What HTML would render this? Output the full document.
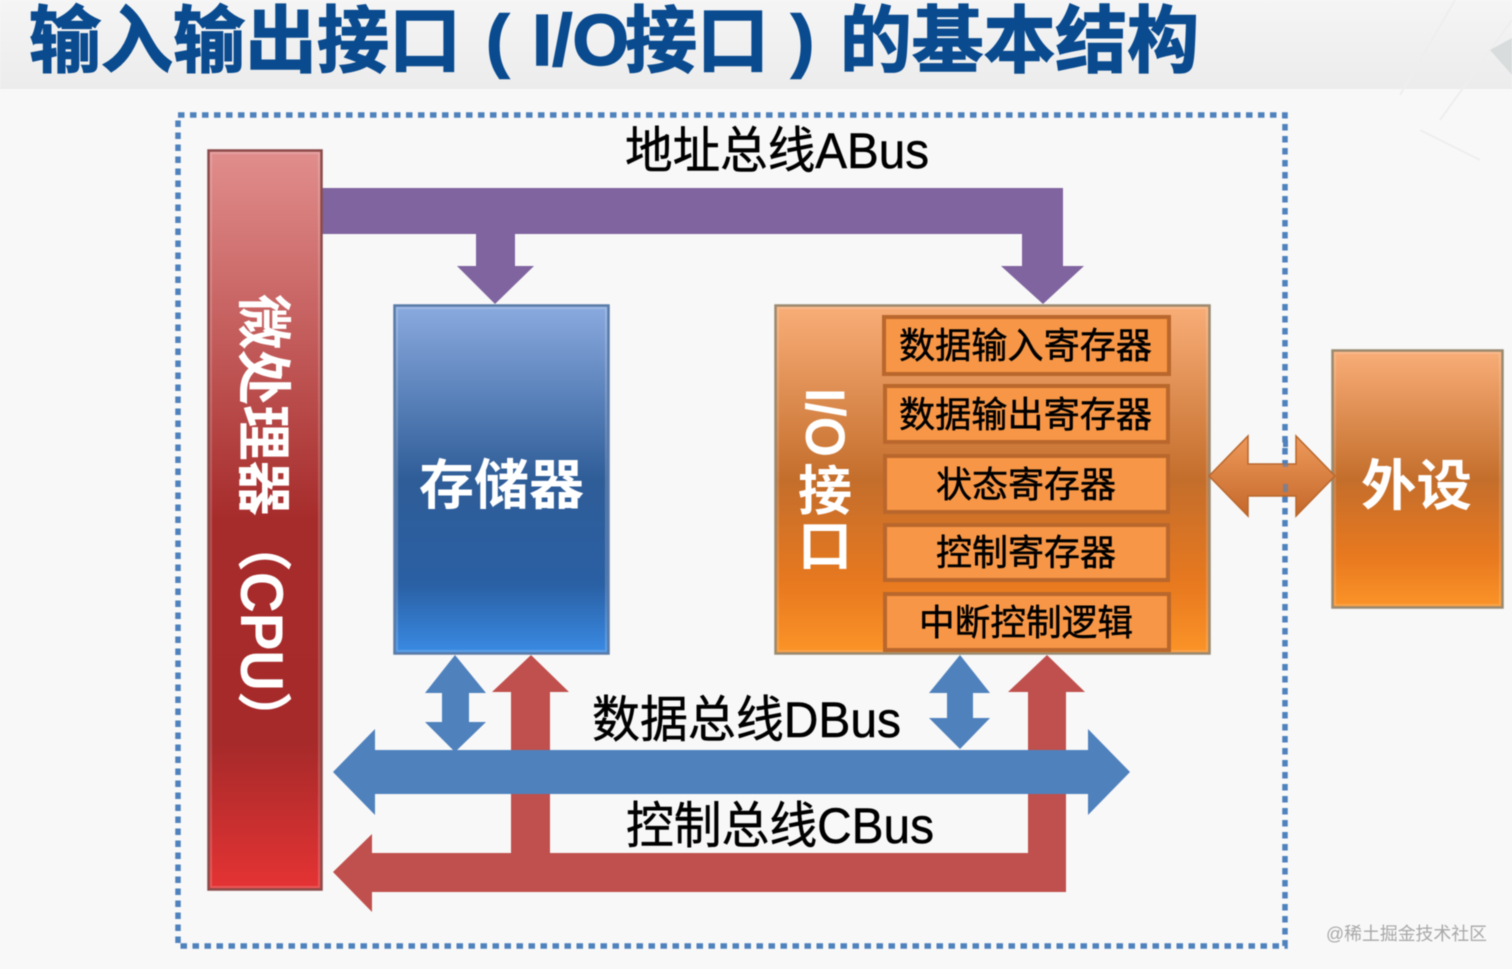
<!DOCTYPE html>
<html lang="zh"><head><meta charset="utf-8"><title>I/O接口</title>
<style>
html,body{margin:0;padding:0;background:#f8f8f8;width:1512px;height:969px;overflow:hidden}
svg{display:block;filter:blur(.45px)}
text{font-family:"Liberation Sans","Noto Sans CJK SC",sans-serif}
</style></head><body>
<svg width="1512" height="969" viewBox="0 0 1512 969" xmlns="http://www.w3.org/2000/svg">
<defs>
<linearGradient id="band" x1="0" y1="0" x2="0" y2="1"><stop offset="0" stop-color="#f5f5f5"/><stop offset="1" stop-color="#ececec"/></linearGradient>
<linearGradient id="cpu" x1="0" y1="0" x2="0" y2="1"><stop offset="0" stop-color="#e18e8d"/><stop offset=".5" stop-color="#a62c2b"/><stop offset=".8" stop-color="#a62a2a"/><stop offset="1" stop-color="#e53334"/></linearGradient>
<linearGradient id="mem" x1="0" y1="0" x2="0" y2="1"><stop offset="0" stop-color="#8aaadf"/><stop offset=".5" stop-color="#2f5d98"/><stop offset=".8" stop-color="#2a60a4"/><stop offset="1" stop-color="#3a8be4"/></linearGradient>
<linearGradient id="org" x1="0" y1="0" x2="0" y2="1"><stop offset="0" stop-color="#f9ae78"/><stop offset=".5" stop-color="#c46e2c"/><stop offset=".8" stop-color="#e8791f"/><stop offset="1" stop-color="#fb9428"/></linearGradient>
<linearGradient id="dbl" x1="0" y1="0" x2="0" y2="1"><stop offset="0" stop-color="#ee9a5c"/><stop offset="1" stop-color="#c4682a"/></linearGradient>
</defs>
<rect width="1512" height="969" fill="#f8f8f8"/>
<rect width="1512" height="89" fill="url(#band)"/>
<g fill="none" stroke="#eeeeee" stroke-width="2"><path d="M1400 95L1455 0M1440 120L1512 20M1420 130L1480 160"/></g>
<path d="M1490 50L1512 38V75Z" fill="#d8dcdc"/>

<g fill="#0a4b8f" stroke="#0a4b8f" stroke-width="1.400" font-weight="700" font-size="73">
<text x="29" y="66" textLength="432" lengthAdjust="spacingAndGlyphs">输入输出接口</text>
<text x="486" y="64" font-size="70">(</text>
<text x="532" y="65" font-size="72" textLength="97" lengthAdjust="spacingAndGlyphs">I/O</text>
<text x="625" y="66" textLength="144" lengthAdjust="spacingAndGlyphs">接口</text>
<text x="791" y="64" font-size="70">)</text>
<text x="840" y="66" textLength="359" lengthAdjust="spacingAndGlyphs">的基本结构</text>
</g>

<rect x="178" y="115" width="1107" height="831" fill="none" stroke="#4f81bd" stroke-width="5.500" stroke-dasharray="6.500 5.500"/>

<text x="625" y="168" font-size="50" fill="#000" stroke="#000" stroke-width=".5" textLength="304" lengthAdjust="spacingAndGlyphs">地址总线ABus</text>

<path d="M322 188H1063V266H1084L1043 304L1001 266H1022V234H515V266H534L495 304L457 266H476V234H322Z" fill="#8064a0"/>

<rect x="208.500" y="150.500" width="113" height="739" fill="url(#cpu)" stroke="#8c4b4a" stroke-width="2.500"/>
<rect x="211" y="153" width="108" height="734" fill="none" stroke="#fff" stroke-opacity=".18" stroke-width="2"/>
<rect x="394.500" y="305.500" width="214" height="348" fill="url(#mem)" stroke="#5a7ba8" stroke-width="2.500"/>
<rect x="397" y="308" width="209" height="343" fill="none" stroke="#fff" stroke-opacity=".18" stroke-width="2"/>
<rect x="775.500" y="305.500" width="434" height="348" fill="url(#org)" stroke="#9a8a70" stroke-width="2.500"/>
<rect x="778" y="308" width="429" height="343" fill="none" stroke="#fff" stroke-opacity=".15" stroke-width="2"/>
<rect x="1332.500" y="350.500" width="170" height="257" fill="url(#org)" stroke="#9a8a70" stroke-width="2.500"/>
<rect x="1335" y="353" width="165" height="252" fill="none" stroke="#fff" stroke-opacity=".15" stroke-width="2"/>

<g fill="#f79646" stroke="#b9672c" stroke-width="4">
<rect x="884" y="317" width="285" height="57"/>
<rect x="885" y="386" width="283" height="56"/>
<rect x="885" y="456" width="283" height="56"/>
<rect x="885" y="525" width="283" height="55"/>
<rect x="885" y="594" width="284" height="56"/>
</g>
<g font-size="36" fill="#000" stroke="#000" stroke-width=".5">
<text x="899" y="358" textLength="253" lengthAdjust="spacingAndGlyphs">数据输入寄存器</text>
<text x="899" y="427" textLength="253" lengthAdjust="spacingAndGlyphs">数据输出寄存器</text>
<text x="936" y="497" textLength="180" lengthAdjust="spacingAndGlyphs">状态寄存器</text>
<text x="936" y="565" textLength="180" lengthAdjust="spacingAndGlyphs">控制寄存器</text>
<text x="919" y="635" textLength="214" lengthAdjust="spacingAndGlyphs">中断控制逻辑</text>
</g>

<g fill="#fff" font-weight="700">
<text x="419" y="504" font-size="54" textLength="165" lengthAdjust="spacingAndGlyphs">存储器</text>
<text x="1361" y="505" font-size="55" textLength="111" lengthAdjust="spacingAndGlyphs">外设</text>
<text transform="translate(244,294) rotate(90)" font-size="55" textLength="222" lengthAdjust="spacingAndGlyphs">微处理器</text>
<text transform="translate(244,517) rotate(90)" font-size="55">（</text>
<text transform="translate(241,572) rotate(90)" font-size="60" textLength="119" lengthAdjust="spacingAndGlyphs">CPU</text>
<text transform="translate(244,691) rotate(90)" font-size="55">）</text>
<text transform="translate(806,388) rotate(90)" font-size="56" textLength="69" lengthAdjust="spacingAndGlyphs">I/O</text>
<text x="798" y="510" font-size="54">接</text>
<text x="798" y="565" font-size="54">口</text>
</g>

<path d="M1209 476L1248 436V464H1296V436L1335 476L1296 516V496H1248V516Z" fill="url(#dbl)" stroke="#b9672c" stroke-width="1.500"/>
<g fill="#4f81bd">
<rect x="1283" y="440" width="5" height="7"/>
<rect x="1283" y="460" width="5" height="7" opacity=".6"/>
<rect x="1283" y="484" width="5" height="8" opacity=".6"/>
</g>

<g fill="#c0504d">
<path d="M531 655L569 692H550V860H511V692H492Z"/>
<path d="M1047 655L1085 692H1066V892H372V912L333 872L372 834V853H1028V692H1008Z"/>
</g>
<g fill="#4f81bd">
<path d="M333 772L375 729V750H1088V729L1130 772L1088 815V794H375V815Z"/>
<path d="M455 655L486 693H469V722H486L455 752L425 722H442V693H425Z"/>
<path d="M960 655L990 693H973V718H990L960 749L929 718H947V693H929Z"/>
</g>

<text x="592" y="737" font-size="50" fill="#000" stroke="#000" stroke-width=".5" textLength="309" lengthAdjust="spacingAndGlyphs">数据总线DBus</text>
<text x="626" y="843" font-size="50" fill="#000" stroke="#000" stroke-width=".5" textLength="308" lengthAdjust="spacingAndGlyphs">控制总线CBus</text>

<text x="1326" y="940" font-size="18" fill="#a8a8a8" textLength="161" lengthAdjust="spacingAndGlyphs">@稀土掘金技术社区</text>
</svg>
</body></html>
